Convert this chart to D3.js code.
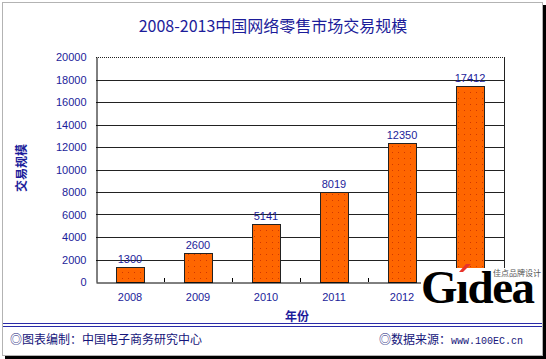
<!DOCTYPE html>
<html><head><meta charset="utf-8">
<script src="https://cdn.jsdelivr.net/npm/d3@7/dist/d3.min.js"></script>
<style>body{margin:0;background:#fff}svg{display:block}</style>
</head><body>
<svg id="c" width="546" height="359"></svg>
<script>
const years = ["2008","2009","2010","2011","2012","2013"];
const values = [1300,2600,5141,8019,12350,17412];
const yTicks = [0,2000,4000,6000,8000,10000,12000,14000,16000,18000,20000];
const title = "2008-2013中国网络零售市场交易规模";
const yTitle = "交易规模";
const xTitle = "年份";
const footLeft = "◎图表编制：中国电子商务研究中心";
const footRightCn = "◎数据来源：";
const footRightUrl = "www.100EC.cn";

const svg = d3.select("#c");
const navy = "#1c1c9a";
const cjk = "'Noto Sans CJK SC','Noto Sans',sans-serif";
const lat = "'Liberation Sans',Arial,sans-serif";

const L=96,R=504,T=57,B=282;
const x = d3.scaleBand().domain(years).range([L,R]).paddingInner(0.59).paddingOuter(0.295);
const y = d3.scaleLinear().domain([0,20000]).range([B,T]);

// defs pattern
const defs = svg.append("defs");
const pat = defs.append("pattern").attr("id","dots").attr("patternUnits","userSpaceOnUse")
  .attr("width",6).attr("height",6);
pat.append("rect").attr("width",6).attr("height",6).attr("fill","#ff6600");
pat.append("rect").attr("x",2).attr("y",2).attr("width",1).attr("height",1).attr("fill","#d03800");

// frame
svg.append("rect").attr("x",543).attr("y",5).attr("width",3).attr("height",354).attr("fill","#000");
svg.append("rect").attr("x",5).attr("y",356).attr("width",541).attr("height",3).attr("fill","#000");
svg.append("rect").attr("x",2.5).attr("y",2.5).attr("width",540).attr("height",353)
  .attr("fill","none").attr("stroke","#666").attr("stroke-dasharray","1,1");

// title
svg.append("text").attr("x",273).attr("y",32).attr("text-anchor","middle")
  .attr("font-family",cjk).attr("font-size",16).attr("fill",navy).text(title);

// gridlines
svg.append("g").selectAll("line").data(yTicks.filter(d=>d>0&&d<20000)).join("line")
  .attr("x1",L).attr("x2",R).attr("y1",d=>Math.round(y(d))+0.5).attr("y2",d=>Math.round(y(d))+0.5)
  .attr("stroke","#222").attr("stroke-width",1);
// top border dotted
svg.append("line").attr("x1",L).attr("x2",R).attr("y1",T+0.5).attr("y2",T+0.5)
  .attr("stroke","#222").attr("stroke-dasharray","1,1");
// right border
svg.append("line").attr("x1",R+0.5).attr("x2",R+0.5).attr("y1",T).attr("y2",B)
  .attr("stroke","#222");

// bars
svg.append("g").selectAll("rect").data(values).join("rect")
  .attr("x",(d,i)=>Math.round(x(years[i]))+0.5).attr("width",Math.round(x.bandwidth()))
  .attr("y",d=>Math.round(y(d))+0.5).attr("height",d=>B-Math.round(y(d)))
  .attr("fill","url(#dots)").attr("stroke","#222").attr("stroke-width",1);

// value labels
svg.append("g").selectAll("text").data(values).join("text")
  .attr("x",(d,i)=>x(years[i])+x.bandwidth()/2).attr("y",d=>y(d)-4)
  .attr("text-anchor","middle").attr("font-family",lat).attr("font-size",11).attr("fill",navy)
  .text(d=>d);

// y axis
const yAxis = d3.axisLeft(y).tickValues(yTicks).tickSize(0).tickPadding(10).tickFormat(d=>d);
const gy = svg.append("g").attr("transform",`translate(${L+0.5},0)`).call(yAxis);
gy.select(".domain").attr("stroke","#000");
gy.selectAll("text").attr("font-family",lat).attr("font-size",11).attr("fill",navy);

// x axis
const xAxis = d3.axisBottom(x).tickSize(0).tickPadding(11);
const gx = svg.append("g").attr("transform",`translate(0,${B+0.5})`).call(xAxis);
gx.select(".domain").attr("stroke","#000");
gx.selectAll("text").attr("font-family",lat).attr("font-size",11).attr("fill",navy);
// category separator ticks (inside)
svg.append("g").selectAll("line").data(years.slice(1)).join("line")
  .attr("x1",d=>Math.round(x(d)-x.step()*x.paddingInner()/2)+0.5)
  .attr("x2",d=>Math.round(x(d)-x.step()*x.paddingInner()/2)+0.5)
  .attr("y1",B-4).attr("y2",B).attr("stroke","#000");

// axis titles
svg.append("text").attr("transform","translate(26,168) rotate(-90)").attr("text-anchor","middle")
  .attr("font-family",cjk).attr("font-size",12).attr("font-weight","bold").attr("fill",navy).text(yTitle);
svg.append("text").attr("x",297).attr("y",321).attr("text-anchor","middle")
  .attr("font-family",cjk).attr("font-size",12).attr("font-weight","bold").attr("fill",navy).text(xTitle);

// footer
svg.append("line").attr("x1",3).attr("x2",542).attr("y1",323.5).attr("y2",323.5).attr("stroke","#2a2aa8");
svg.append("line").attr("x1",3).attr("x2",542).attr("y1",326.5).attr("y2",326.5).attr("stroke","#2a2aa8");
svg.append("text").attr("x",10).attr("y",344).attr("font-family",cjk).attr("font-size",12)
  .attr("fill","#15157a").text(footLeft);
const fr = svg.append("text").attr("x",379).attr("y",344).attr("font-family",cjk).attr("font-size",12).attr("fill","#15157a");
fr.append("tspan").text(footRightCn);
fr.append("tspan").attr("font-family","'Liberation Mono',monospace").attr("font-size",10).text(footRightUrl);

// watermark logo
svg.append("rect").attr("x",421).attr("y",268).attr("width",121).attr("height",38).attr("fill","#fff");
const lg = svg.append("text").attr("x",421).attr("y",303).attr("font-family","'Liberation Serif','DejaVu Serif',serif")
  .attr("font-weight","bold").attr("font-size",47).attr("fill","#000").attr("letter-spacing",-1.5);
lg.text("G\u0131dea");
svg.append("polygon").attr("points","459,272 466,264 471,264 463,272").attr("fill","#e8332a");
svg.append("text").attr("x",493).attr("y",276).attr("font-family",cjk).attr("font-size",8)
  .attr("fill","#555").text("佳点品牌设计");
</script>
</body></html>
